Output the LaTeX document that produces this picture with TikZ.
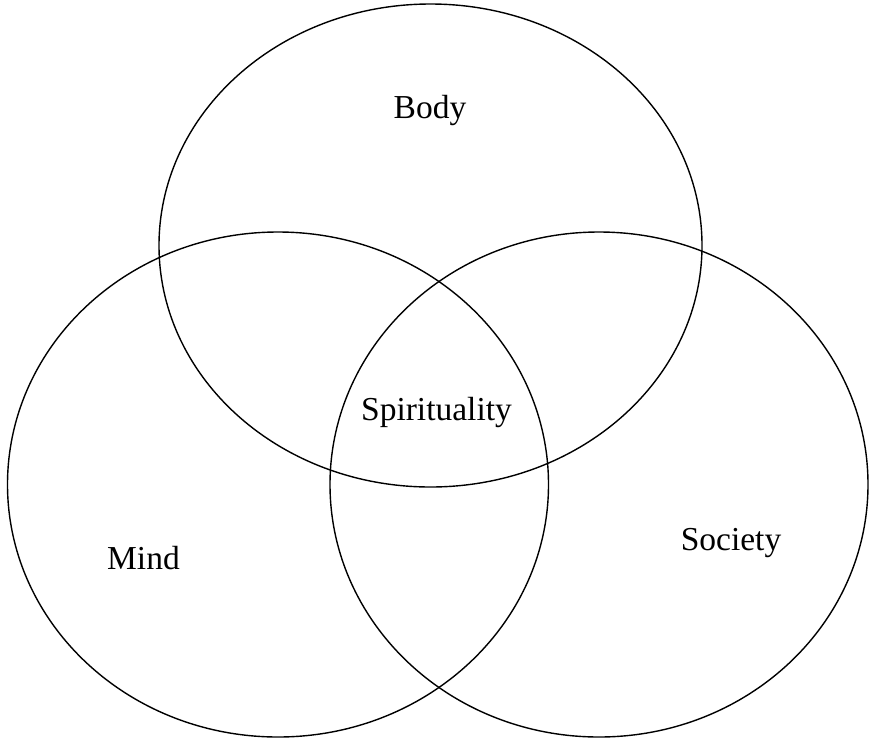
\documentclass[tikz,border=0pt]{standalone}
\usepackage{fontspec}
\setmainfont{Liberation Serif}
\begin{document}
\begin{tikzpicture}[x=1pt,y=-1pt,
  ring/.style={draw=black, line width=1.4pt},
  lab/.style={anchor=base, inner sep=0pt, font=\fontsize{33.5}{40}\selectfont}]
\useasboundingbox (0,0) rectangle (870,740);
\fill[white] (0,0) rectangle (870,740);
\draw[ring] (430.5,245.5) ellipse [x radius=271.5, y radius=241.5];
\draw[ring] (278,484.5) ellipse [x radius=270.5, y radius=252.5];
\draw[ring] (599,484.5) ellipse [x radius=269, y radius=252.5];
\node[lab] (body) at (430,118) {Body};
\node[lab] (spirit) at (436.5,420) {Spirituality};
\node[lab] (mind) at (143.5,569) {Mind};
\node[lab] (society) at (731,550) {Society};
\end{tikzpicture}
\end{document}
